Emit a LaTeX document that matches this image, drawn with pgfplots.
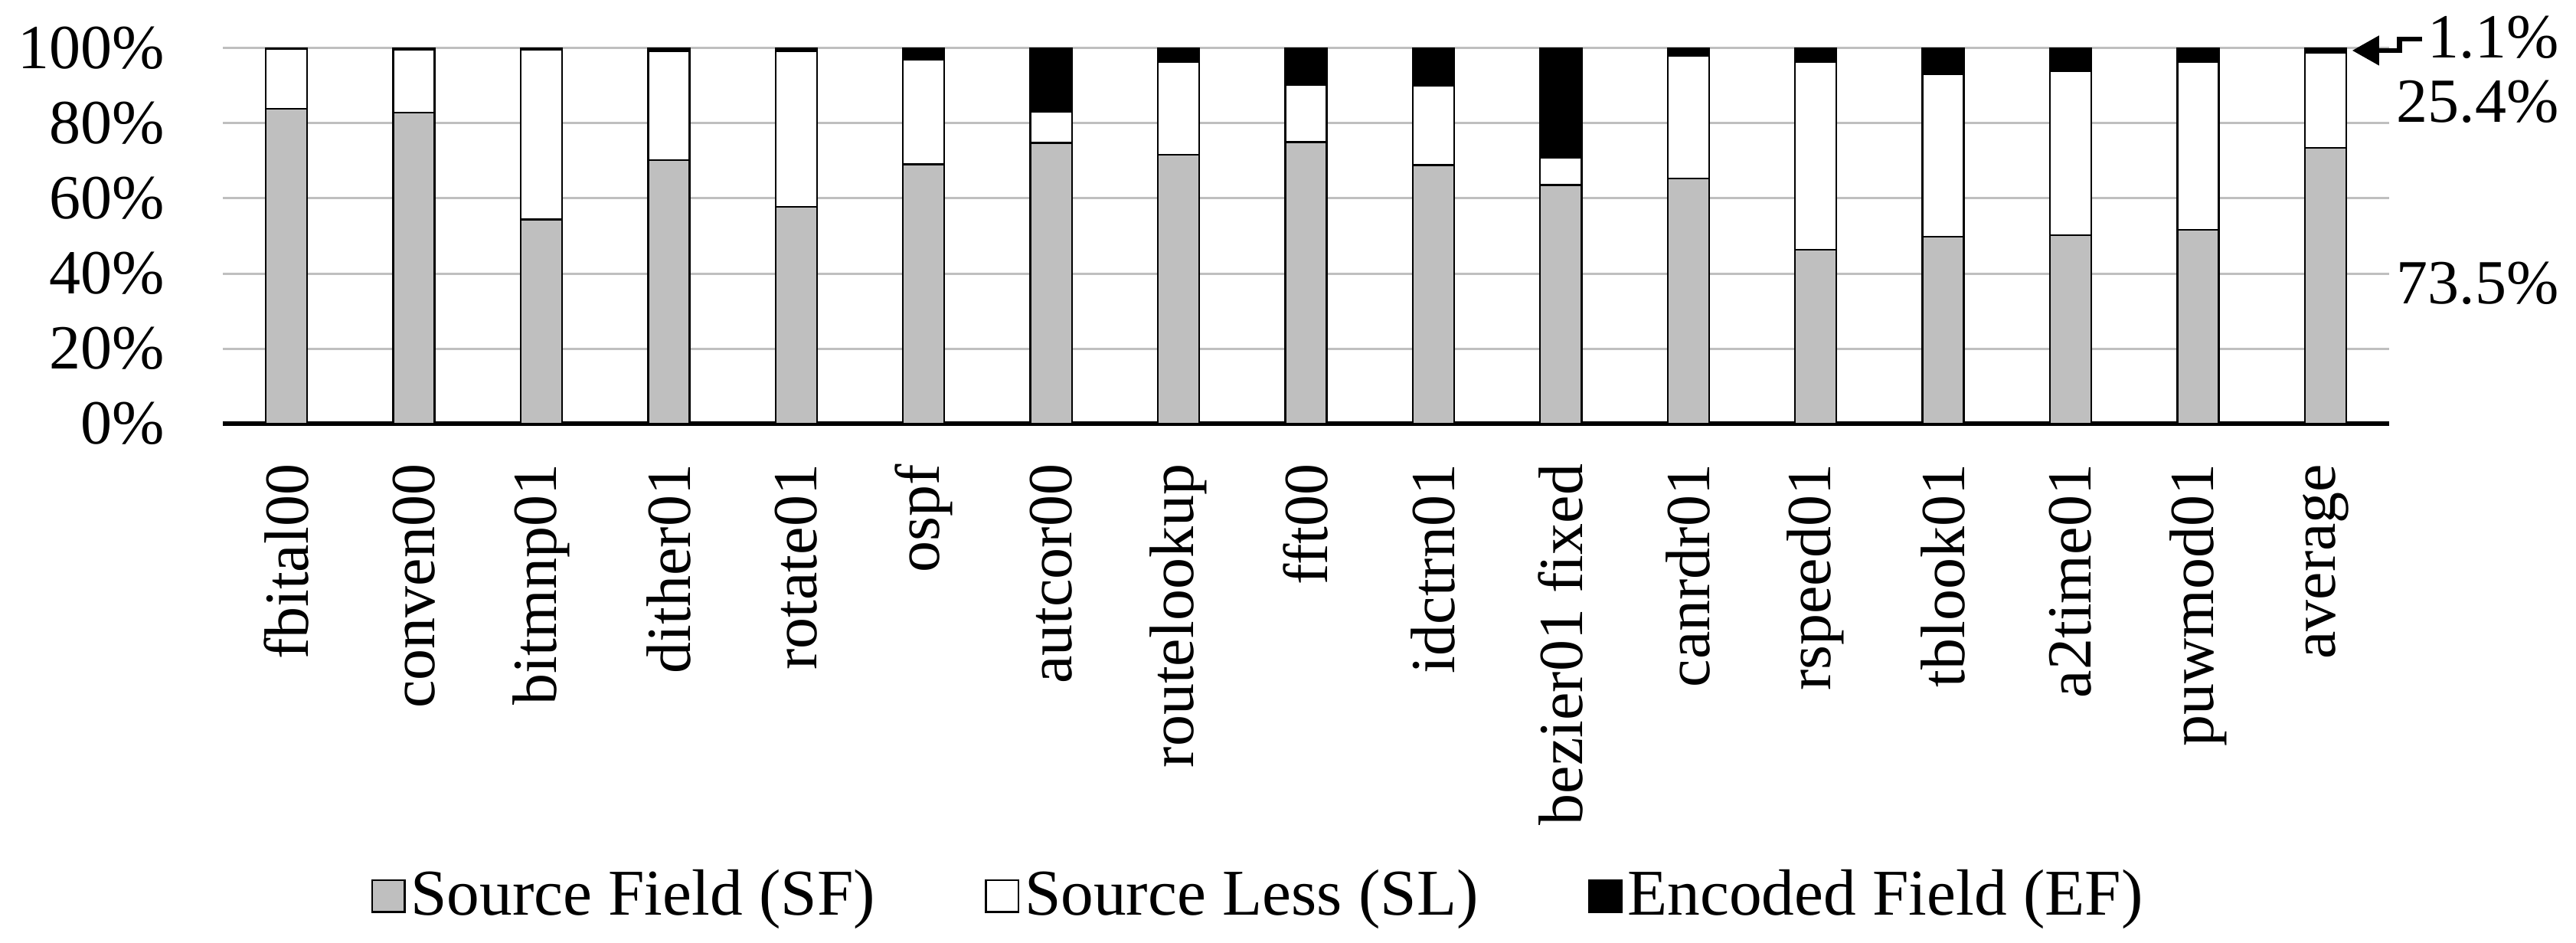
\documentclass[border=0pt]{standalone}
\usepackage{pgfplots}
\pgfplotsset{compat=1.18}
\usepackage{fontspec}
\setmainfont{Liberation Serif}
\usetikzlibrary{arrows.meta}
\definecolor{sfgray}{HTML}{BFBFBF}
\definecolor{gridgray}{HTML}{BFBFBF}
\newcommand{\fs}{\fontsize{12.3}{14}\selectfont}
\newcommand{\lfs}{\fontsize{12.8}{14}\selectfont}
\begin{document}
\begin{tikzpicture}
\begin{axis}[
  name=ax,
  scale only axis,
  width=424.35pt, height=73.5pt,
  xmin=-0.5, xmax=16.5, ymin=0, ymax=100,
  ybar stacked, bar width=0.325,
  xtick={0,...,16},
  xticklabels={fbital00,conven00,bitmnp01,dither01,rotate01,ospf,autcor00,routelookup,fft00,idctrn01,bezier01 fixed,canrdr01,rspeed01,tblook01,a2time01,puwmod01,average},
  xticklabel style={rotate=90, anchor=east, font=\fs},
  xticklabel shift=4.4pt,
  ytick={0,20,40,60,80,100},
  yticklabels={0\%,20\%,40\%,60\%,80\%,100\%},
  yticklabel style={font=\fs},
  yticklabel shift=7.9pt,
  ymajorgrids,
  grid style={draw=gridgray, line width=0.45pt},
  major tick length=0pt,
  axis x line*=bottom, axis y line*=left,
  x axis line style={line width=0.9pt, black, -},
  y axis line style={draw=none},
  clip=false,
  legend columns=3,
  legend style={at={(0.4786,-1.259)}, anchor=center, draw=none, fill=none, font=\lfs,
    nodes={inner sep=1pt},
    /tikz/every even column/.append style={column sep=20.5pt}},
  legend image code/.code={\draw[#1, line width=0.35pt] (0pt,-3.1pt) rectangle (6.4pt,3.1pt);},
]
\addplot[fill=sfgray, draw=black, line width=0.35pt] coordinates {
 (0,83.9) (1,82.8) (2,54.4) (3,70.2) (4,57.8) (5,69.1) (6,74.8) (7,71.6) (8,75.0)
 (9,68.9) (10,63.6) (11,65.3) (12,46.3) (13,49.8) (14,50.2) (15,51.6) (16,73.5)};
\addplot[fill=white, draw=black, line width=0.35pt] coordinates {
 (0,15.9) (1,16.9) (2,45.2) (3,29.0) (4,41.5) (5,27.9) (6,8.2) (7,24.8) (8,15.2)
 (9,21.1) (10,7.3) (11,32.7) (12,50.0) (13,43.2) (14,43.8) (15,44.7) (16,25.4)};
\addplot[fill=black, draw=black, line width=0.35pt] coordinates {
 (0,0.2) (1,0.3) (2,0.4) (3,0.8) (4,0.7) (5,3.0) (6,17.0) (7,3.6) (8,9.8)
 (9,10.0) (10,29.1) (11,2.0) (12,3.7) (13,7.0) (14,6.0) (15,3.7) (16,1.1)};
\legend{Source Field (SF),Source Less (SL),Encoded Field (EF)}
\node[anchor=east, inner sep=0pt, font=\fs] at (axis cs:17.84,102.86) {1.1\%};
\node[anchor=east, inner sep=0pt, font=\fs] at (axis cs:17.84,85.7) {25.4\%};
\node[anchor=east, inner sep=0pt, font=\fs] at (axis cs:17.84,37.35) {73.5\%};
\draw[line width=1pt, -{Triangle[length=5.25pt,width=5.6pt]}] (axis cs:16.76,102.45) -- (axis cs:16.58,102.45) -- (axis cs:16.58,99.4) -- (axis cs:16.21,99.4);
\end{axis}
\pgfresetboundingbox
\path[use as bounding box] ([shift={(-43.65pt,-101.55pt)}]ax.south west) rectangle ++(504.6pt,184.5pt);
\end{tikzpicture}
\end{document}
